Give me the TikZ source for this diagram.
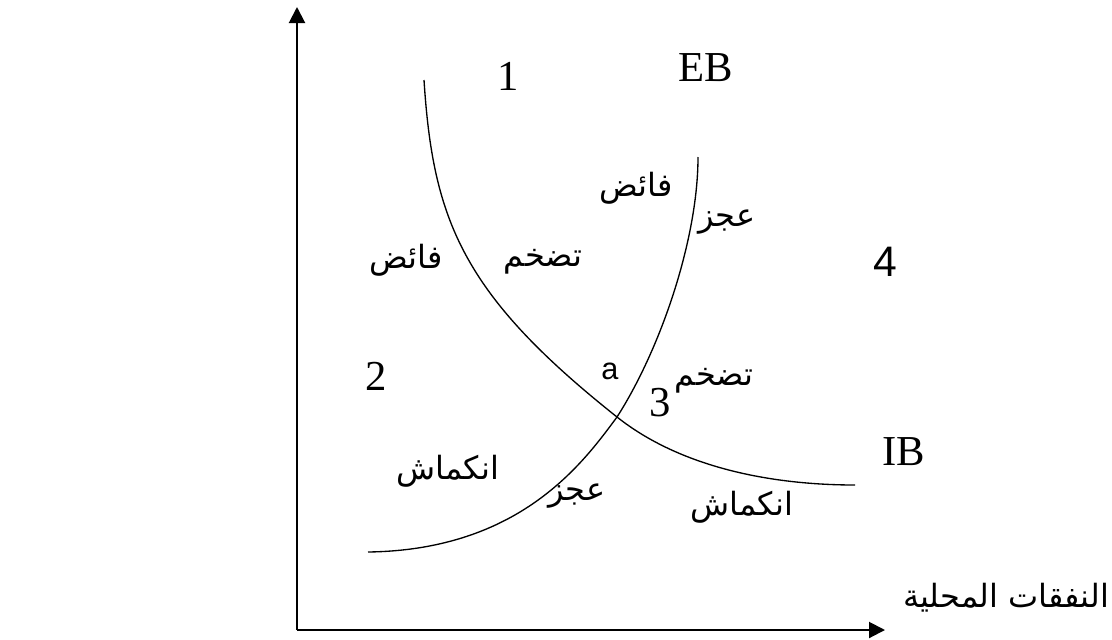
\documentclass[tikz,border=0pt]{standalone}
\usepackage{fontspec}
\setmainfont{Liberation Serif}
\newfontfamily\arsans{Liberation Sans}
\newfontfamily\arabicfont[Script=Arabic]{DejaVu Sans}
\TeXXeTstate=1
\usetikzlibrary{arrows.meta}
\begin{document}
\begin{tikzpicture}[x=0.75pt,y=-0.75pt,
  axis/.style={line width=1.5pt,-{Triangle[length=12pt,width=12pt]}},
  curve/.style={line width=1pt},
  num/.style={inner sep=0pt,font=\fontsize{32}{36}\selectfont},
  snum/.style={inner sep=0pt,font=\arsans\fontsize{32}{36}\selectfont},
  ar/.style={inner sep=0pt,font=\arabicfont\fontsize{24}{28}\selectfont}]
\useasboundingbox (0,0) rectangle (1112,639);
\coordinate (O) at (297,630);
\coordinate (Ytop) at (297,7);
\coordinate (Xend) at (885,630);
\draw[axis] (O) -- (Ytop);
\draw[axis] (O) -- (Xend);
% IB curve
\coordinate (ibs) at (424,80);
\coordinate (cross) at (617,417);
\coordinate (ibe) at (855,485);
\draw[curve] (ibs) .. controls (433,220) and (462,294) .. (cross)
  .. controls (680,467) and (770,485) .. (ibe);
% EB curve
\coordinate (ebs) at (368,552);
\coordinate (ebe) at (698,157);
\draw[curve] (ebs) .. controls (520,550) and (583,463) .. (cross)
  .. controls (660,350) and (698,240) .. (ebe);
\node[num] (n1) at (508,76) {1};
\node[num] (eb) at (706,68) {EB};
\node[num] (ib) at (904,452) {IB};
\node[num] (n2) at (376,376) {2};
\node[num] (n3) at (660,403) {3};
\node[snum] (n4) at (885,262) {4};
\node[inner sep=0pt,font=\arsans\fontsize{23}{28}\selectfont] (pa) at (610,371) {a};
\node[ar] (fa1) at (636,188) {\beginR فائض\endR};
\node[ar] (aj1) at (727,222) {\beginR عجز\endR};
\node[ar] (fa2) at (406,260) {\beginR فائض\endR};
\node[ar] (td1) at (543,262) {\beginR تضخم\endR};
\node[ar] (td2) at (714,381) {\beginR تضخم\endR};
\node[ar] (ik1) at (448,471) {\beginR انكماش\endR};
\node[ar] (aj2) at (577,496) {\beginR عجز\endR};
\node[ar] (ik2) at (742,507) {\beginR انكماش\endR};
\node[ar] (xl) at (1006,598) {\beginR النفقات المحلية\endR};
\end{tikzpicture}
\end{document}
